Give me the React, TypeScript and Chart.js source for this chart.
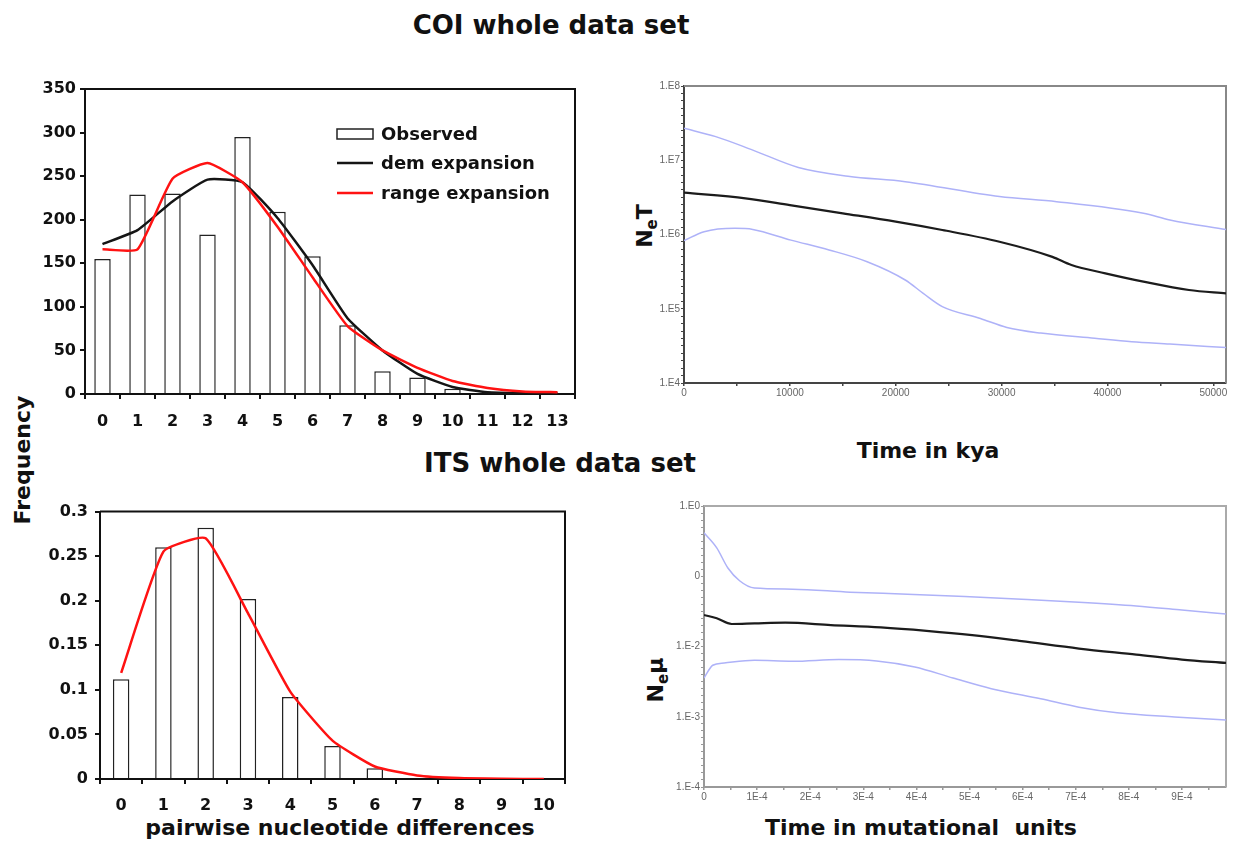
import React, { useEffect, useRef } from "react";
import { Chart, registerables } from "chart.js";

Chart.register(...registerables);

const BOLD = "'DejaVu Sans', Verdana, sans-serif";
const THIN = "'Liberation Sans', Arial, sans-serif";

// ---------- COI mismatch distribution ----------
const coiDifferences = ["0", "1", "2", "3", "4", "5", "6", "7", "8", "9", "10", "11", "12", "13"];
const coiObserved = [155, 229, 230, 183, 295, 209, 158, 79, 26, 19, 6, 1, 0, 0];
const coiDemExpansion = [172, 188, 221, 246, 243, 202, 148, 87, 50, 23, 8, 2, 1, 1];
const coiRangeExpansion = [166, 166, 247, 265, 243, 192, 134, 78, 50, 30, 15, 7, 3, 2];

// ---------- ITS mismatch distribution ----------
const itsDifferences = ["0", "1", "2", "3", "4", "5", "6", "7", "8", "9", "10"];
const itsObserved = [0.112, 0.26, 0.282, 0.202, 0.092, 0.037, 0.012, 0.001, 0, 0, 0];
const itsRangeExpansion = [0.119, 0.255, 0.27, 0.186, 0.098, 0.043, 0.014, 0.004, 0.001, 0.0003, 0];
const itsYTickLabels = ["0", "0.05", "0.1", "0.15", "0.2", "0.25", "0.3"];

// ---------- COI skyline (NeT vs time in kya) ----------
const coiMedianTime = [0, 5800, 10000, 15000, 20000, 24400, 29800, 34800, 36600, 39800, 43400, 47700, 51200];
const coiMedianNeT = [3.66e6, 3.07e6, 2.49e6, 1.93e6, 1.49e6, 1.15e6, 8.0e5, 5.0e5, 3.88e5, 3.0e5, 2.32e5, 1.79e5, 1.61e5];
const coiUpperTime = [0, 3000, 6500, 10800, 15500, 20900, 29800, 35200, 43400, 45900, 51200];
const coiUpperNeT = [2.69e7, 2.08e7, 1.37e7, 8.0e6, 6.1e6, 5.15e6, 3.24e6, 2.77e6, 1.93e6, 1.57e6, 1.17e6];
const coiLowerTime = [0, 1900, 4800, 6500, 10100, 13700, 17300, 20900, 22600, 24400, 28000, 30500, 33700, 38800, 42300, 45900, 51200];
const coiLowerNeT = [8.26e5, 1.09e6, 1.21e6, 1.17e6, 8.4e5, 6.2e5, 4.3e5, 2.44e5, 1.61e5, 1.07e5, 7.4e4, 5.6e4, 4.7e4, 4.0e4, 3.6e4, 3.35e4, 3.0e4];
const coiTimeTickLabels = ["0", "10000", "20000", "30000", "40000", "50000"];
const coiNeTTickLabels = ["1.E4", "1.E5", "1.E6", "1.E7", "1.E8"];

// ---------- ITS skyline (Ne·mu vs mutational time) ----------
const itsMedianTime = [0, 2.4e-5, 5.2e-5, 9.5e-5, 1.53e-4, 2.39e-4, 3.33e-4, 4.19e-4, 5.05e-4, 5.98e-4, 7.06e-4, 8.14e-4, 9.0e-4, 9.83e-4];
const itsMedianNeMu = [0.0281, 0.0252, 0.0209, 0.0213, 0.0218, 0.0202, 0.0187, 0.0167, 0.0145, 0.0119, 0.00935, 0.00767, 0.00652, 0.00583];
const itsUpperTime = [0, 2.4e-5, 4.5e-5, 6.7e-5, 9.5e-5, 1.67e-4, 2.75e-4, 3.83e-4, 4.91e-4, 5.98e-4, 7.06e-4, 8.14e-4, 9.0e-4, 9.83e-4];
const itsUpperNeMu = [0.415, 0.253, 0.131, 0.0863, 0.0678, 0.0655, 0.0593, 0.0556, 0.0514, 0.0471, 0.0427, 0.0378, 0.0331, 0.029];
const itsLowerTime = [0, 1.65e-5, 3.8e-5, 9.5e-5, 1.67e-4, 2.54e-4, 3.25e-4, 3.97e-4, 4.69e-4, 5.41e-4, 6.34e-4, 7.06e-4, 7.78e-4, 8.86e-4, 9.83e-4];
const itsLowerNeMu = [0.00356, 0.00541, 0.00583, 0.00637, 0.00617, 0.00652, 0.00624, 0.00512, 0.00356, 0.00251, 0.0018, 0.00137, 0.00114, 0.000995, 0.000902];
const itsTimeTickLabels = ["0", "1E-4", "2E-4", "3E-4", "4E-4", "5E-4", "6E-4", "7E-4", "8E-4", "9E-4"];
const itsNeMuTickLabels = ["1.E-4", "1.E-3", "1.E-2", "0", "1.E0"];

const zip = (xs: number[], ys: number[]) => xs.map((x, i) => ({ x, y: ys[i] }));

// draws top and right frame lines of the plot area
const framePlugin = (color: string, width: number) => ({
  id: "frame",
  beforeDatasetsDraw(chart: any) {
    const { ctx, chartArea: a } = chart;
    ctx.save();
    ctx.strokeStyle = color;
    ctx.lineWidth = width;
    ctx.beginPath();
    ctx.moveTo(a.left, a.top);
    ctx.lineTo(a.right, a.top);
    ctx.lineTo(a.right, a.bottom);
    ctx.stroke();
    ctx.restore();
  },
});

const coiLegendPlugin = {
  id: "coiLegend",
  afterDraw(chart: any) {
    const { ctx, chartArea: a } = chart;
    const ds = chart.data.datasets;
    const rows = [45, 74, 104];
    const sx0 = a.left + 252;
    const sx1 = a.left + 288;
    ctx.save();
    ctx.font = `bold 18px ${BOLD}`;
    ctx.textBaseline = "middle";
    ds.forEach((d: any, i: number) => {
      const y = a.top + rows[i];
      if (d.type === "bar") {
        ctx.fillStyle = "#fff";
        ctx.strokeStyle = "#222";
        ctx.lineWidth = 1.5;
        ctx.fillRect(sx0, y - 5, sx1 - sx0, 10);
        ctx.strokeRect(sx0, y - 5, sx1 - sx0, 10);
      } else {
        ctx.strokeStyle = d.borderColor;
        ctx.lineWidth = 2.5;
        ctx.beginPath();
        ctx.moveTo(sx0, y);
        ctx.lineTo(sx1, y);
        ctx.stroke();
      }
      ctx.fillStyle = "#111";
      ctx.fillText(d.label, a.left + 296, y + 1);
    });
    ctx.restore();
  },
};

function mismatchConfig(opts: {
  labels: string[];
  bars: number[];
  lines: { label: string; data: number[]; color: string }[];
  barPct: number;
  yMax: number;
  yStep: number;
  yLabels?: string[];
  yWidth: number;
  xHeight: number;
  xPad: number;
  yPad: number;
  legend: boolean;
}) {
  const datasets: any[] = [
    {
      type: "bar",
      label: "Observed",
      data: opts.bars,
      backgroundColor: "#ffffff",
      borderColor: "#222",
      borderWidth: 1.5,
      borderSkipped: "bottom",
      barPercentage: opts.barPct,
      categoryPercentage: 1,
      order: 5,
    },
  ];
  opts.lines.forEach((l, i) => {
    datasets.push({
      type: "line",
      label: l.label,
      data: l.data,
      borderColor: l.color,
      borderWidth: 2.5,
      pointRadius: 0,
      tension: 0.15,
      order: 3 - i,
    });
  });
  return {
    type: "bar",
    data: { labels: opts.labels, datasets },
    options: {
      responsive: false,
      animation: false,
      layout: { padding: { top: 14, right: 15, left: 0, bottom: 0 } },
      plugins: { legend: { display: false }, tooltip: { enabled: false } },
      scales: {
        x: {
          grid: { offset: true, drawOnChartArea: false, drawTicks: true, tickLength: 5, color: "#111", lineWidth: 2 },
          border: { display: true, color: "#111", width: 2 },
          ticks: { font: { family: BOLD, weight: "bold", size: 16 }, color: "#111", padding: opts.xPad, maxRotation: 0, autoSkip: false },
          afterFit: (s: any) => {
            s.height = opts.xHeight;
          },
        },
        y: {
          min: 0,
          max: opts.yMax,
          grid: { drawOnChartArea: false, drawTicks: true, tickLength: 5, color: "#111", lineWidth: 2 },
          border: { display: true, color: "#111", width: 2 },
          ticks: {
            stepSize: opts.yStep,
            font: { family: BOLD, weight: "bold", size: 16 },
            color: "#111",
            padding: opts.yPad,
            callback: (v: any, i: number) => (opts.yLabels ? opts.yLabels[i] : String(v)),
          },
          afterFit: (s: any) => {
            s.width = opts.yWidth;
          },
        },
      },
    },
    plugins: opts.legend ? [framePlugin("#111", 2), coiLegendPlugin] : [framePlugin("#111", 2)],
  };
}

function skylineConfig(opts: {
  median: { x: number; y: number }[];
  upper: { x: number; y: number }[];
  lower: { x: number; y: number }[];
  xMax: number;
  xStep: number;
  xCount: number;
  xLabels: string[];
  yMinExp: number;
  yMaxExp: number;
  yLabels: string[];
  yWidth: number;
  xHeight: number;
  axisColor: string;
  frameColor: string;
}) {
  const blue = "#aeb2f8";
  const line = (data: any, color: string, w: number) => ({
    data,
    borderColor: color,
    borderWidth: w,
    pointRadius: 0,
    cubicInterpolationMode: "monotone",
    fill: false,
  });
  return {
    type: "line",
    data: {
      datasets: [line(opts.upper, blue, 1.5), line(opts.lower, blue, 1.5), line(opts.median, "#1c1c1c", 2.2)],
    },
    options: {
      responsive: false,
      animation: false,
      layout: { padding: { top: 16, right: 14, left: 0, bottom: 0 } },
      plugins: { legend: { display: false }, tooltip: { enabled: false } },
      scales: {
        x: {
          type: "linear",
          min: 0,
          max: opts.xMax,
          afterBuildTicks: (s: any) => {
            s.ticks = Array.from({ length: opts.xCount }, (_, i) => ({ value: i * opts.xStep }));
          },
          grid: { drawOnChartArea: false, drawTicks: true, tickLength: 3, color: opts.axisColor, lineWidth: 1.5 },
          border: { display: true, color: opts.axisColor, width: 2 },
          ticks: {
            autoSkip: false,
            maxRotation: 0,
            padding: 1,
            font: { family: THIN, size: 10 },
            color: "#666",
            callback: (_v: any, i: number) => (i % 2 === 0 ? opts.xLabels[i / 2] : ""),
          },
          afterFit: (s: any) => {
            s.height = opts.xHeight;
          },
        },
        y: {
          type: "logarithmic",
          min: Math.pow(10, opts.yMinExp),
          max: Math.pow(10, opts.yMaxExp),
          afterBuildTicks: (s: any) => {
            const t: any[] = [];
            for (let e = opts.yMinExp; e < opts.yMaxExp; e++) {
              for (let k = 0; k < 10; k++) t.push({ value: Math.pow(10, e + k / 10) });
            }
            t.push({ value: Math.pow(10, opts.yMaxExp) });
            s.ticks = t;
          },
          grid: { drawOnChartArea: false, drawTicks: true, tickLength: 3, color: opts.axisColor, lineWidth: 1 },
          border: { display: true, color: opts.axisColor, width: 2 },
          ticks: {
            autoSkip: false,
            padding: 1,
            font: { family: THIN, size: 10 },
            color: "#666",
            callback: (v: any) => {
              const l = Math.log10(v);
              const e = Math.round(l);
              if (Math.abs(l - e) > 1e-6) return "";
              return opts.yLabels[e - opts.yMinExp];
            },
          },
          afterFit: (s: any) => {
            s.width = opts.yWidth;
          },
        },
      },
    },
    plugins: [framePlugin(opts.frameColor, 2)],
  };
}

function ChartBox({ left, top, width, height, make }: { left: number; top: number; width: number; height: number; make: () => any }) {
  const ref = useRef<HTMLCanvasElement>(null);
  useEffect(() => {
    const chart = new Chart(ref.current as HTMLCanvasElement, make());
    return () => chart.destroy();
  }, []);
  return <canvas ref={ref} width={width} height={height} style={{ position: "absolute", left, top, width, height }} />;
}

function Label({ x, y, size, children, rotate, pre }: { x: number; y: number; size: number; children: any; rotate?: boolean; pre?: boolean }) {
  return (
    <div
      style={{
        position: "absolute",
        left: x,
        top: y,
        transform: `translate(-50%, -50%)${rotate ? " rotate(-90deg)" : ""}`,
        fontFamily: BOLD,
        fontWeight: "bold",
        fontSize: size,
        lineHeight: 1,
        color: "#111",
        whiteSpace: pre ? "pre" : "nowrap",
      }}
    >
      {children}
    </div>
  );
}

export default function App() {
  return (
    <div style={{ position: "fixed", left: 0, top: 0, width: 1234, height: 841, background: "#fff", overflow: "hidden" }}>
      <Label x={551} y={25} size={26}>COI whole data set</Label>
      <Label x={560} y={463} size={26}>ITS whole data set</Label>
      <Label x={23} y={460} size={22} rotate>Frequency</Label>
      <Label x={928} y={451} size={22}>Time in kya</Label>
      <Label x={340} y={828} size={22}>pairwise nucleotide differences</Label>
      <Label x={921} y={828} size={22} pre>Time in mutational  units</Label>
      <Label x={647} y={226} size={22} rotate>
        N<sub style={{ fontSize: 15 }}>e</sub>T
      </Label>
      <Label x={658} y={680} size={22} rotate>
        N<sub style={{ fontSize: 15 }}>e</sub>μ
      </Label>

      <ChartBox
        left={30}
        top={75}
        width={560}
        height={365}
        make={() =>
          mismatchConfig({
            labels: coiDifferences,
            bars: coiObserved,
            lines: [
              { label: "dem expansion", data: coiDemExpansion, color: "#151515" },
              { label: "range expansion", data: coiRangeExpansion, color: "#ff1212" },
            ],
            barPct: 0.47,
            yMax: 350,
            yStep: 50,
            yWidth: 55,
            xHeight: 46,
            xPad: 13,
            yPad: 4,
            legend: true,
          })
        }
      />
      <ChartBox
        left={40}
        top={495}
        width={540}
        height={325}
        make={() =>
          mismatchConfig({
            labels: itsDifferences,
            bars: itsObserved,
            lines: [{ label: "range expansion", data: itsRangeExpansion, color: "#ff1212" }],
            barPct: 0.39,
            yMax: 0.3,
            yStep: 0.05,
            yLabels: itsYTickLabels,
            yWidth: 60,
            xHeight: 41,
            xPad: 12,
            yPad: 7,
            legend: false,
          })
        }
      />
      <ChartBox
        left={640}
        top={70}
        width={600}
        height={345}
        make={() =>
          skylineConfig({
            median: zip(coiMedianTime, coiMedianNeT),
            upper: zip(coiUpperTime, coiUpperNeT),
            lower: zip(coiLowerTime, coiLowerNeT),
            xMax: 51200,
            xStep: 5000,
            xCount: 11,
            xLabels: coiTimeTickLabels,
            yMinExp: 4,
            yMaxExp: 8,
            yLabels: coiNeTTickLabels,
            yWidth: 44,
            xHeight: 32,
            axisColor: "#444",
            frameColor: "#888",
          })
        }
      />
      <ChartBox
        left={650}
        top={490}
        width={590}
        height={330}
        make={() =>
          skylineConfig({
            median: zip(itsMedianTime, itsMedianNeMu),
            upper: zip(itsUpperTime, itsUpperNeMu),
            lower: zip(itsLowerTime, itsLowerNeMu),
            xMax: 9.83e-4,
            xStep: 5e-5,
            xCount: 20,
            xLabels: itsTimeTickLabels,
            yMinExp: -4,
            yMaxExp: 0,
            yLabels: itsNeMuTickLabels,
            yWidth: 54,
            xHeight: 33,
            axisColor: "#999",
            frameColor: "#aaa",
          })
        }
      />
    </div>
  );
}
